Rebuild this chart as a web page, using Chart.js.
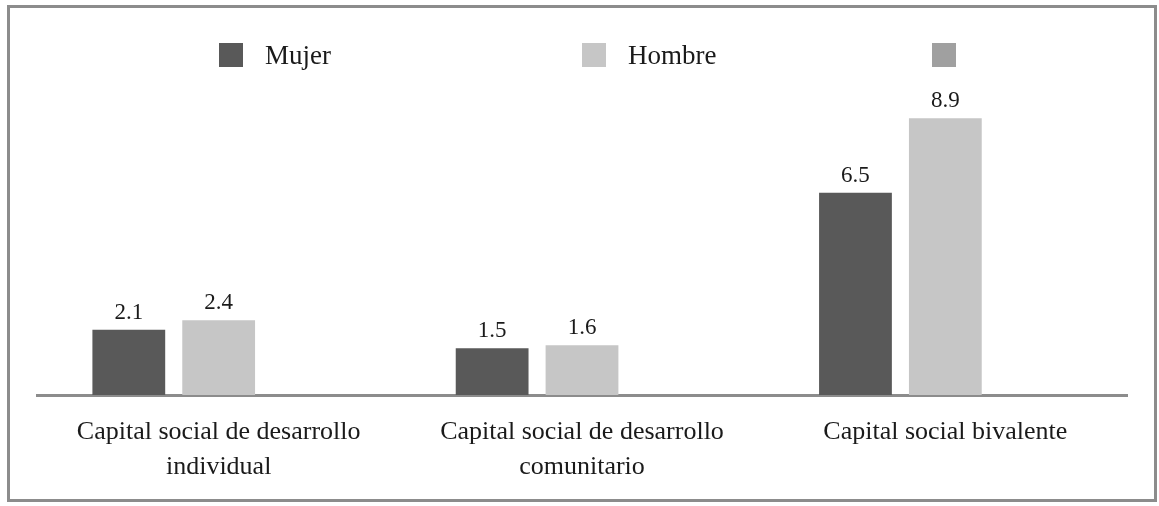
<!DOCTYPE html>
<html>
<head>
<meta charset="utf-8">
<script src="https://cdn.jsdelivr.net/npm/chart.js@4.4.0/dist/chart.umd.min.js"></script>
<style>
    html, body { margin: 0; padding: 0; background: #fff; }
    #wrap { position: relative; width: 1159px; height: 506px; }
    #frame {
        position: absolute; left: 7px; top: 5px; width: 1150px; height: 497px;
        box-sizing: border-box; border: 3px solid #8c8c8c; pointer-events: none;
    }
    .item {
        position: absolute; top: 43px; height: 24px; display: flex; align-items: center;
        font: 27px "Liberation Serif", serif; color: #1a1a1a; white-space: nowrap;
    }
    .item:nth-child(1) { left: 219px; }
    .item:nth-child(2) { left: 582px; }
    .item:nth-child(3) { left: 932px; }
    .box { width: 24px; height: 24px; margin-right: 22px; }
</style>
</head>
<body>
<div id="wrap">
    <canvas id="chart" width="1159" height="506"></canvas>
    <div id="legend"></div>
    <div id="frame"></div>
</div>
<script>
// ----------------------------------------------------
// Data
// ----------------------------------------------------
const categories = [
    ["Capital social de desarrollo", "individual"],
    ["Capital social de desarrollo", "comunitario"],
    "Capital social bivalente"
];
const seriesNames = ["Mujer", "Hombre", ""];
const mujer = [2.1, 1.5, 6.5];
const hombre = [2.4, 1.6, 8.9];
const tercera = [null, null, null];
const seriesColors = ["#595959", "#c6c6c6", "#a0a0a0"];

const FONT = '"Liberation Serif", serif';
const TEXT = "#1a1a1a";

// ----------------------------------------------------
// Legend (fixed slots, like the original)
// ----------------------------------------------------
const legend = document.getElementById("legend");
seriesNames.forEach((name, i) => {
    const item = document.createElement("div");
    item.className = "item";
    const box = document.createElement("span");
    box.className = "box";
    box.style.background = seriesColors[i];
    const label = document.createElement("span");
    label.innerText = name;
    item.appendChild(box);
    item.appendChild(label);
    legend.appendChild(item);
});

// ----------------------------------------------------
// Value labels above the bars
// ----------------------------------------------------
const valueLabels = {
    id: "valueLabels",
    afterDatasetsDraw(chart) {
        const ctx = chart.ctx;
        ctx.save();
        ctx.font = "23px " + FONT;
        ctx.fillStyle = TEXT;
        ctx.textAlign = "center";
        ctx.textBaseline = "alphabetic";
        chart.data.datasets.forEach((ds, i) => {
            chart.getDatasetMeta(i).data.forEach((bar, j) => {
                const v = ds.data[j];
                if (v == null) return;
                ctx.fillText(v.toFixed(1), bar.x, bar.y - 11);
            });
        });
        ctx.restore();
    }
};

const values = [mujer, hombre, tercera];

new Chart(document.getElementById("chart"), {
    type: "bar",
    data: {
        labels: categories,
        datasets: values.map((data, i) => ({
            label: seriesNames[i],
            data: data,
            backgroundColor: seriesColors[i],
            borderWidth: 0,
            categoryPercentage: 0.742,
            barPercentage: 0.81
        }))
    },
    options: {
        responsive: false,
        animation: false,
        layout: { padding: { top: 84, left: 37, right: 32, bottom: 11 } },
        plugins: {
            legend: { display: false },
            tooltip: { enabled: false }
        },
        scales: {
            x: {
                grid: { display: false, drawTicks: false },
                border: { display: true, color: "#8c8c8c", width: 3 },
                ticks: {
                    font: { family: FONT, size: 26, lineHeight: 1.33 },
                    color: TEXT,
                    padding: 20,
                    maxRotation: 0,
                    autoSkip: false
                },
                afterFit(scale) { scale.height = 100; }
            },
            y: { display: false, min: 0, max: 10 }
        }
    },
    plugins: [valueLabels]
});
</script>
</body>
</html>
